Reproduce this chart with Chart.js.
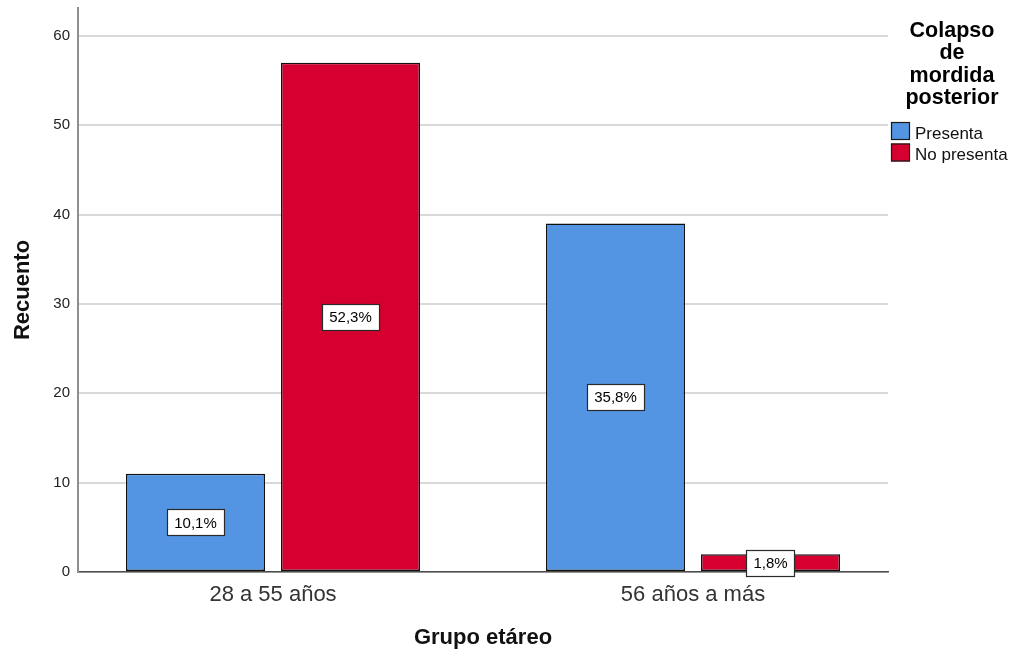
<!DOCTYPE html>
<html>
<head>
<meta charset="utf-8">
<script src="https://cdn.jsdelivr.net/npm/chart.js@4"></script>
<style>
  html, body { margin: 0; padding: 0; background: #fff; }
  #wrap { width: 1014px; height: 652px; }
</style>
</head>
<body>
<div id="wrap"><canvas id="chart" width="1014" height="652"></canvas></div>
<script>
const categories = ["28 a 55 años", "56 años a más"];
const seriesNames = ["Presenta", "No presenta"];
const presenta = [11, 39];
const noPresenta = [57, 2];
const presentaPct = ["10,1%", "35,8%"];
const noPresentaPct = ["52,3%", "1,8%"];
const legendTitle = ["Colapso", "de", "mordida", "posterior"];
const yTickStep = 10;

const FONT = "'Liberation Sans', Arial, sans-serif";

// white boxes with the percentages, centered in each bar
const barLabels = {
  id: "barLabels",
  afterDatasetsDraw(chart) {
    const ctx = chart.ctx;
    ctx.save();
    ctx.font = "15px " + FONT;
    ctx.textAlign = "center";
    ctx.textBaseline = "middle";
    chart.data.datasets.forEach((ds, di) => {
      chart.getDatasetMeta(di).data.forEach((bar, i) => {
        const txt = ds.pctLabels[i];
        const cx = bar.x;
        const cy = (bar.y + bar.base) / 2;
        const w = Math.round(ctx.measureText(txt).width + 14);
        const h = 26;
        const x0 = Math.round(cx - w / 2);
        const y0 = Math.round(cy - h / 2);
        ctx.fillStyle = "#fff";
        ctx.fillRect(x0, y0, w, h);
        ctx.strokeStyle = "#2a2a2a";
        ctx.lineWidth = 1.2;
        ctx.strokeRect(x0 + 0.5, y0 + 0.5, w, h);
        ctx.fillStyle = "#000";
        ctx.fillText(txt, cx, cy + 1);
      });
    });
    ctx.restore();
  },
};

// legend on the right with a multi-line title
const sideLegend = {
  id: "sideLegend",
  afterDraw(chart) {
    const ctx = chart.ctx;
    ctx.save();
    ctx.fillStyle = "#000";
    ctx.font = "bold 21.5px " + FONT;
    ctx.textAlign = "center";
    ctx.textBaseline = "alphabetic";
    legendTitle.forEach((line, i) => {
      ctx.fillText(line, 952, 36.7 + i * 22.5);
    });
    ctx.font = "17px " + FONT;
    ctx.textAlign = "left";
    chart.data.datasets.forEach((ds, i) => {
      const y = 122 + i * 21.5;
      ctx.fillStyle = ds.backgroundColor;
      ctx.fillRect(891, y, 19, 18);
      ctx.strokeStyle = "#1a1a1a";
      ctx.lineWidth = 1.2;
      ctx.strokeRect(891.5, y + 0.5, 18, 17);
      ctx.fillStyle = "#111";
      ctx.fillText(ds.label, 915, y + 16.5);
    });
    ctx.restore();
  },
};

const toPoints = (vals) => vals.map((v, i) => ({ x: i, y: v }));

new Chart(document.getElementById("chart"), {
  type: "bar",
  data: {
    datasets: [
      {
        label: seriesNames[0],
        data: toPoints(presenta),
        pctLabels: presentaPct,
        backgroundColor: "#5495e3",
        borderColor: "#111",
        borderWidth: 1.5,
        borderSkipped: false,
      },
      {
        label: seriesNames[1],
        data: toPoints(noPresenta),
        pctLabels: noPresentaPct,
        backgroundColor: "#d50030",
        borderColor: "#111",
        borderWidth: 1.5,
        borderSkipped: false,
      },
    ],
  },
  options: {
    responsive: false,
    animation: false,
    layout: { padding: { top: 8, right: 126, left: 0, bottom: 0 } },
    categoryPercentage: 310 / 420,
    barPercentage: 139 / 155,
    plugins: {
      legend: { display: false },
      tooltip: { enabled: false },
    },
    scales: {
      x: {
        type: "linear",
        min: -0.4643,
        max: 1.4643,
        offset: false,
        afterBuildTicks: (s) => {
          s.ticks = categories.map((c, i) => ({ value: i }));
        },
        afterFit: (s) => {
          s.height = 80;
          s.paddingLeft = 0;
          s.paddingRight = 0;
        },
        grid: { display: false, drawTicks: false },
        border: { display: true, color: "#4d4d4d", width: 1.5 },
        ticks: {
          padding: 10,
          color: "#333",
          font: { family: FONT, size: 22 },
          callback: (v) => categories[v],
        },
        title: {
          display: true,
          text: "Grupo etáreo",
          color: "#111",
          font: { family: FONT, size: 22, weight: "bold", lineHeight: 1 },
          padding: { top: 0, bottom: 3 },
        },
      },
      y: {
        min: 0,
        max: 63.13,
        afterBuildTicks: (s) => {
          s.ticks = s.ticks.filter((t) => t.value % yTickStep === 0);
        },
        afterFit: (s) => {
          s.width = 78;
          s.paddingTop = 0;
          s.paddingBottom = 0;
        },
        grid: { color: "#d9d9d9", lineWidth: 2, drawTicks: false },
        border: { display: true, color: "#8f8f8f", width: 2 },
        ticks: {
          stepSize: yTickStep,
          padding: 8,
          color: "#222",
          font: { family: FONT, size: 15 },
        },
        title: {
          display: true,
          text: "Recuento",
          color: "#111",
          font: { family: FONT, size: 22, weight: "bold", lineHeight: 1 },
          padding: { top: 11.5, bottom: 0 },
        },
      },
    },
  },
  plugins: [barLabels, sideLegend],
});
</script>
</body>
</html>
